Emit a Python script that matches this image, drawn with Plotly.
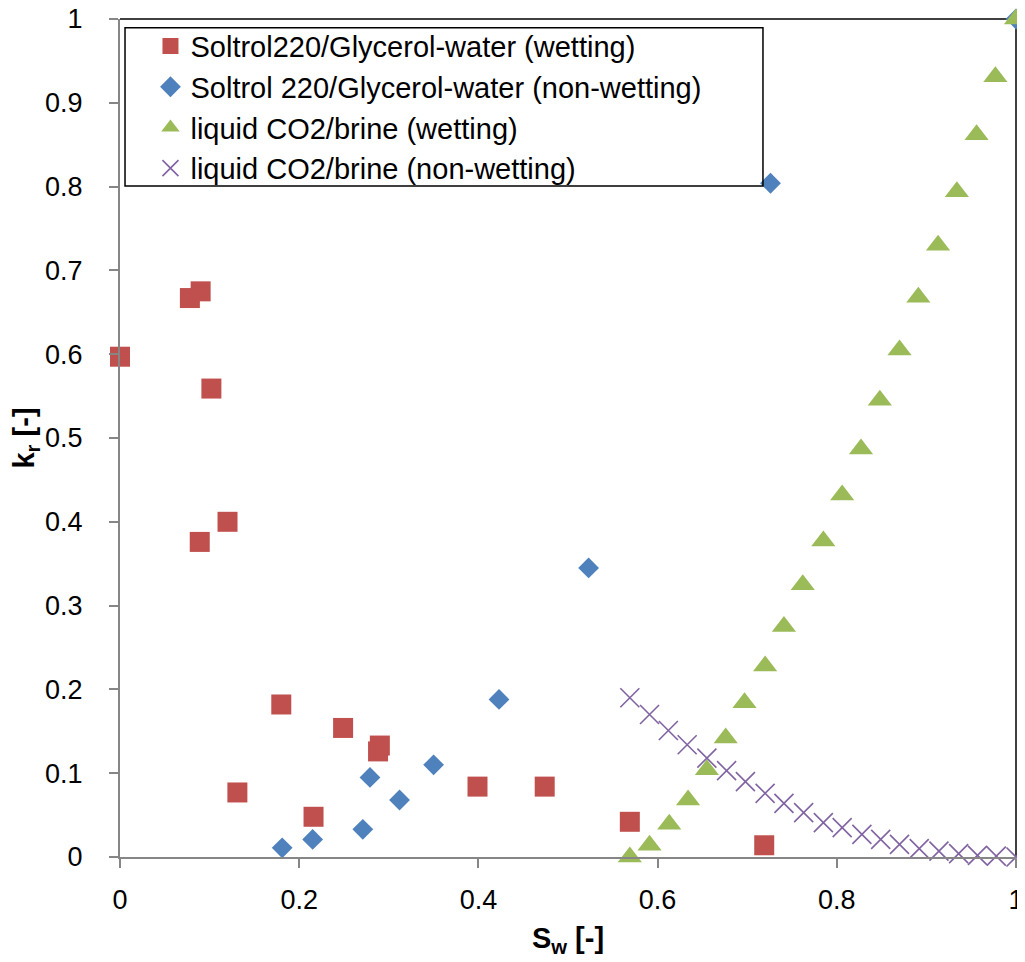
import plotly.graph_objects as go

# Soltrol220/Glycerol-water (wetting)
sw_sg_wet = [0.0, 0.078, 0.090, 0.102, 0.089, 0.120, 0.180, 0.131, 0.216, 0.249, 0.290, 0.288, 0.399, 0.474, 0.569, 0.719]
kr_sg_wet = [0.597, 0.667, 0.675, 0.559, 0.376, 0.400, 0.182, 0.077, 0.048, 0.154, 0.133, 0.126, 0.084, 0.084, 0.042, 0.014]

# Soltrol 220/Glycerol-water (non-wetting)
sw_sg_nw = [0.181, 0.215, 0.271, 0.279, 0.312, 0.350, 0.423, 0.523, 0.726, 1.0]
kr_sg_nw = [0.011, 0.021, 0.033, 0.095, 0.068, 0.110, 0.188, 0.345, 0.804, 1.0]

# liquid CO2/brine (wetting)
sw_co2_wet = [0.569, 0.591, 0.613, 0.634, 0.655, 0.676, 0.697, 0.720, 0.741, 0.762, 0.785,
              0.806, 0.827, 0.848, 0.870, 0.891, 0.913, 0.934, 0.956, 0.977, 1.0]
kr_co2_wet = [0.0, 0.014, 0.039, 0.068, 0.104, 0.142, 0.184, 0.228, 0.275, 0.325, 0.377,
              0.432, 0.487, 0.545, 0.605, 0.668, 0.730, 0.794, 0.862, 0.931, 1.0]

# liquid CO2/brine (non-wetting)
sw_co2_nw = [0.569, 0.591, 0.612, 0.633, 0.655, 0.677, 0.698, 0.720, 0.741, 0.763, 0.785,
             0.806, 0.828, 0.849, 0.870, 0.892, 0.914, 0.936, 0.957, 0.978, 1.0]
kr_co2_nw = [0.190, 0.170, 0.151, 0.134, 0.118, 0.103, 0.090, 0.076, 0.064, 0.053, 0.041,
             0.035, 0.027, 0.021, 0.015, 0.010, 0.007, 0.004, 0.002, 0.001, 0.0]

x_ticks = [0, 0.2, 0.4, 0.6, 0.8, 1]
y_ticks = [0, 0.1, 0.2, 0.3, 0.4, 0.5, 0.6, 0.7, 0.8, 0.9, 1]

FONT = "Liberation Sans"
RED, BLUE, GREEN, PURPLE = "#C0504D", "#4F81BD", "#9BBB59", "#8064A2"

fig = go.Figure()
fig.add_trace(go.Scatter(x=sw_sg_wet, y=kr_sg_wet, mode="markers", cliponaxis=False,
                         name="Soltrol220/Glycerol-water (wetting)", legendgroup="a",
                         marker=dict(symbol="square", size=20, color=RED)))
fig.add_trace(go.Scatter(x=sw_sg_nw, y=kr_sg_nw, mode="markers", cliponaxis=False,
                         name="Soltrol 220/Glycerol-water (non-wetting)", legendgroup="b",
                         marker=dict(symbol="diamond", size=16, color=BLUE)))
fig.add_trace(go.Scatter(x=sw_co2_wet, y=kr_co2_wet, mode="markers", cliponaxis=False,
                         name="liquid CO2/brine (wetting)", legendgroup="c",
                         marker=dict(symbol="triangle-up", size=21, color=GREEN)))
fig.add_trace(go.Scatter(x=sw_co2_nw, y=kr_co2_nw, mode="markers", cliponaxis=False,
                         name="liquid CO2/brine (non-wetting)", legendgroup="d",
                         marker=dict(symbol="x-thin", size=19, color=PURPLE,
                                     line=dict(color=PURPLE, width=1.6))))

axis_common = dict(showgrid=False, zeroline=False, showline=True, linecolor="#868686",
                   linewidth=2, ticks="outside", ticklen=9, tickcolor="#868686", tickwidth=1.5,
                   automargin=False, ticklabeloverflow="allow",
                   tickfont=dict(family=FONT, size=27, color="black"))

fig.update_layout(
    width=1017, height=954,
    margin=dict(l=112, r=9, t=11, b=105),
    plot_bgcolor="white", paper_bgcolor="white",
    font=dict(family=FONT, color="black"),
    showlegend=True,
    legend=dict(x=0.034, y=0.998, xanchor="left", yanchor="top",
                font=dict(family=FONT, size=29, color="black"),
                bgcolor="rgba(0,0,0,0)", borderwidth=0, tracegroupgap=0,
                itemwidth=30),
    xaxis=dict(range=[0, 1], tickvals=x_ticks, ticktext=[str(v) for v in x_ticks],
               ticklabelstandoff=9,
               title=dict(text="<b>S<sub>w</sub> [-]</b>", font=dict(family=FONT, size=29), standoff=13),
               **axis_common),
    yaxis=dict(range=[0, 1], tickvals=y_ticks, ticktext=[str(v) for v in y_ticks],
               ticklabelstandoff=21,
               title=dict(text="<b>k<sub>r</sub> [-]</b>", font=dict(family=FONT, size=29), standoff=6),
               **axis_common),
    shapes=[
        dict(type="line", xref="paper", yref="paper", x0=0, x1=1, y0=1, y1=1,
             line=dict(color="black", width=1.5), layer="below"),
        dict(type="line", xref="paper", yref="paper", x0=1, x1=1, y0=0, y1=1,
             line=dict(color="black", width=1.5), layer="below"),
        dict(type="rect", xref="paper", yref="paper", x0=0.0056, x1=0.7176, y0=0.8006, y1=0.9897,
             line=dict(color="black", width=1.5), fillcolor="rgba(0,0,0,0)", layer="above"),
    ],
)

fig.write_html("out.html")
